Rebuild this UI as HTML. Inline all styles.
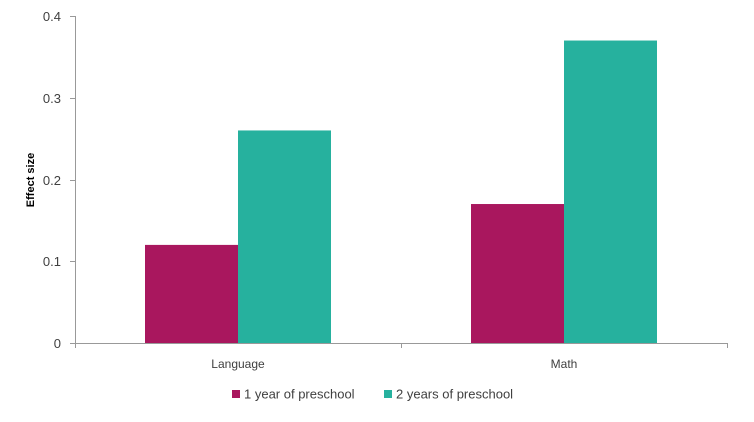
<!DOCTYPE html>
<html><head><meta charset="utf-8"><style>
body{margin:0;background:#fff;}
svg{display:block;font-family:"Liberation Sans",sans-serif;}
</style></head><body>
<svg id="c" width="754" height="422"></svg>
<script>
const categories=["Language","Math"];
const series1=[0.12,0.17];
const series2=[0.26,0.37];
const seriesNames=["1 year of preschool","2 years of preschool"];
const yTicks=[0,0.1,0.2,0.3,0.4];
const yTickLabels=["0","0.1","0.2","0.3","0.4"];
const colors=["#A9175E","#26B19E"];
const NS="http://www.w3.org/2000/svg";
const svg=document.getElementById("c");
const x0=75,x1=727,y0=343,yTop=16,yMax=0.4;
const y=v=>y0-(v/yMax)*(y0-yTop);
const bandW=(x1-x0)/categories.length;
const barW=93;
function mk(t,a,p){const e=document.createElementNS(NS,t);for(const k in a)e.setAttribute(k,a[k]);(p||svg).appendChild(e);return e;}
let ax=mk("line",{x1:x0+0.5,y1:yTop,x2:x0+0.5,y2:y0,stroke:"#999","stroke-width":1});


yTicks.forEach((v,i)=>{
  const yy=Math.round(y(v))+0.5;
  const t=mk("line",{x1:70,y1:yy,x2:x0,y2:yy,stroke:"#999"});
  
  
  const l=mk("text",{x:61,y:yy+4.5,"text-anchor":"end","font-size":13,fill:"#404040"});
  l.textContent=yTickLabels[i];
  
  
});
const yt=mk("text",{x:0,y:0,transform:"translate(34,180) rotate(-90)","text-anchor":"middle","font-size":11,"font-weight":"bold",fill:"#000"});
yt.textContent="Effect size";


categories.forEach((c,i)=>{
  const cx=x0+bandW*(i+0.5);
  [series1,series2].forEach((s,j)=>{
    const bx=j===0?cx-barW:cx;
    const r=mk("rect",{x:bx,y:y(s[i]),width:barW,height:y0-y(s[i]),fill:colors[j]});
    
    
  });
  const l=mk("text",{x:cx,y:368,"text-anchor":"middle","font-size":12,fill:"#404040"});
  l.textContent=c;
  
  
});
const xa=mk("line",{x1:x0,y1:y0+0.5,x2:x1,y2:y0+0.5,stroke:"#999"});


for(let i=0;i<=categories.length;i++){
  const xx=Math.round(x0+bandW*i)+0.5;
  const t=mk("line",{x1:xx,y1:y0,x2:xx,y2:y0+5,stroke:"#999"});
  
  
}
const legX=[232,384];
seriesNames.forEach((n,j)=>{
  const g=mk("g",{});
  
  
  mk("rect",{x:legX[j],y:390,width:8,height:8,fill:colors[j]},g);
  const t=mk("text",{x:legX[j]+12,y:398.5,"font-size":13,fill:"#404040"},g);
  t.textContent=n;
});
</script>
</body></html>
